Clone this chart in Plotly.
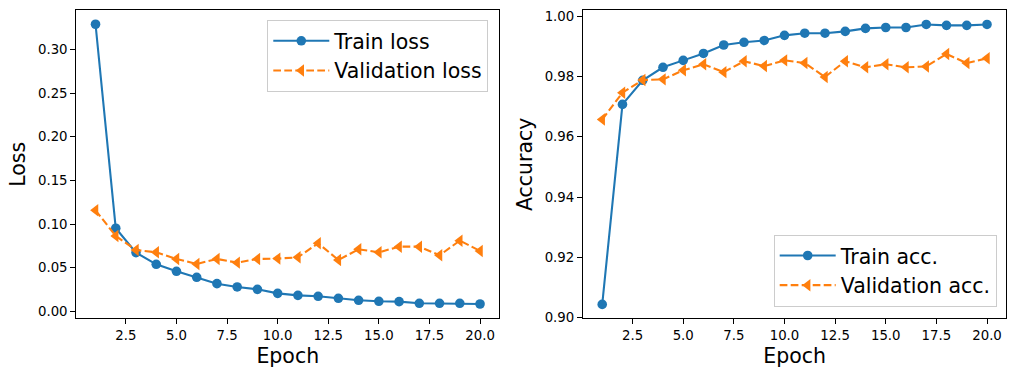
import plotly.graph_objects as go

epochs = list(range(1, 21))
train_loss = [0.329, 0.0952, 0.0673, 0.0539, 0.0459, 0.0390, 0.0317, 0.0279, 0.0252, 0.0206,
              0.0183, 0.0172, 0.0149, 0.0126, 0.0115, 0.0111, 0.0092, 0.0092, 0.0092, 0.0084]
val_loss = [0.1158, 0.0864, 0.0703, 0.0676, 0.0600, 0.0543, 0.0600, 0.0558, 0.0600, 0.0604,
            0.0619, 0.0780, 0.0589, 0.0711, 0.0676, 0.0741, 0.0741, 0.0642, 0.0810, 0.0692]
train_acc = [0.9044, 0.9707, 0.9787, 0.9830, 0.9853, 0.9876, 0.9904, 0.9913, 0.9919, 0.9936,
             0.9943, 0.9943, 0.9949, 0.9959, 0.9962, 0.9962, 0.9972, 0.9969, 0.9969, 0.9972]
val_acc = [0.9657, 0.9746, 0.9788, 0.9790, 0.9820, 0.9840, 0.9814, 0.9850, 0.9834, 0.9853,
           0.9844, 0.9798, 0.9850, 0.9830, 0.9840, 0.9830, 0.9833, 0.9874, 0.9844, 0.9860]

x_ticks = [2.5, 5.0, 7.5, 10.0, 12.5, 15.0, 17.5, 20.0]
loss_ticks = [0.00, 0.05, 0.10, 0.15, 0.20, 0.25, 0.30]
acc_ticks = [0.90, 0.92, 0.94, 0.96, 0.98, 1.00]

BLUE = "#1f77b4"
ORANGE = "#ff7f0e"
FONT = "DejaVu Sans"

fig = go.Figure()

def add_pair(y_train, y_val, name_train, name_val, xa, ya, leg):
    fig.add_trace(go.Scatter(
        x=epochs, y=y_train, name=name_train, mode="lines+markers",
        line=dict(color=BLUE, width=2.1),
        marker=dict(symbol="circle", size=9.6, color=BLUE),
        xaxis=xa, yaxis=ya, legend=leg))
    fig.add_trace(go.Scatter(
        x=epochs, y=y_val, name=name_val, mode="lines+markers",
        line=dict(color=ORANGE, width=2.1, dash="7.7px,3.3px"),
        marker=dict(symbol="triangle-left", size=10.8, color=ORANGE),
        xaxis=xa, yaxis=ya, legend=leg))

add_pair(train_loss, val_loss, "Train loss", "Validation loss", "x", "y", "legend")
add_pair(train_acc, val_acc, "Train acc.", "Validation acc.", "x2", "y2", "legend2")

axis_common = dict(
    showline=True, linecolor="black", linewidth=1.1, mirror=True,
    ticks="outside", ticklen=5, tickwidth=1.1, tickcolor="black",
    showgrid=False, zeroline=False, automargin=False,
    tickfont=dict(family=FONT, size=13.3, color="black"),
)

fig.update_layout(
    width=1016, height=377,
    margin=dict(l=0, r=0, t=0, b=0),
    paper_bgcolor="white", plot_bgcolor="white",
    font=dict(family=FONT, color="black"),
    xaxis=dict(domain=[0.0751, 0.4914], range=[0.05, 20.95], tickvals=x_ticks,
               tickformat=".1f",
               title=dict(text="Epoch", font=dict(size=20.5), standoff=6), anchor="y",
               **axis_common),
    yaxis=dict(domain=[0.1557, 0.9727], range=[-0.008, 0.345], tickvals=loss_ticks,
               tickformat=".2f",
               title=dict(text="Loss", font=dict(size=20.5), standoff=6), anchor="x",
               **axis_common),
    xaxis2=dict(domain=[0.5738, 0.9904], range=[0.05, 20.95], tickvals=x_ticks,
                tickformat=".1f",
                title=dict(text="Epoch", font=dict(size=20.5), standoff=6), anchor="y2",
                **axis_common),
    yaxis2=dict(domain=[0.1557, 0.9727], range=[0.8998, 1.0019], tickvals=acc_ticks,
                tickformat=".2f",
                title=dict(text="Accuracy", font=dict(size=20.5), standoff=6), anchor="x2",
                **axis_common),
    legend=dict(x=0.4806, y=0.947, xanchor="right", yanchor="top",
                bgcolor="rgba(255,255,255,0.8)", bordercolor="#cccccc", borderwidth=1,
                font=dict(family=FONT, size=20.5, color="black"),
                itemwidth=56, tracegroupgap=0),
    legend2=dict(x=0.981, y=0.1865, xanchor="right", yanchor="bottom",
                 bgcolor="rgba(255,255,255,0.8)", bordercolor="#cccccc", borderwidth=1,
                 font=dict(family=FONT, size=20.5, color="black"),
                 itemwidth=56, tracegroupgap=0),
    showlegend=True,
)

fig.write_html("out.html", config={"displayModeBar": False},
               post_script="document.body.style.margin='0';")
